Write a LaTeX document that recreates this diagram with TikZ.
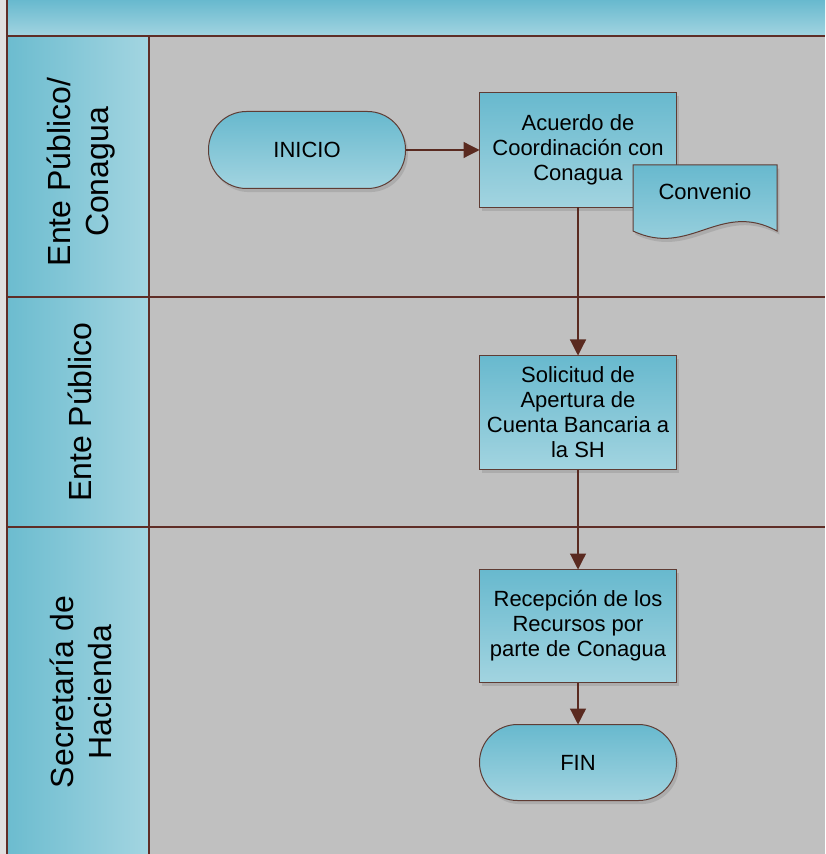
\documentclass[tikz,border=0pt]{standalone}
\usepackage{fontspec}
\setmainfont{Liberation Sans}
\usetikzlibrary{positioning,shadows,arrows.meta}
\definecolor{boxtop}{RGB}{104,185,206}
\definecolor{boxbot}{RGB}{162,212,224}
\definecolor{laneL}{RGB}{108,188,207}
\definecolor{laneR}{RGB}{163,213,225}
\definecolor{edge}{RGB}{95,60,52}
\definecolor{lanerule}{RGB}{95,45,38}
\definecolor{flowc}{RGB}{90,42,32}
\definecolor{pool}{RGB}{192,192,192}
\tikzset{
  proc/.style={draw=edge, line width=0.5pt, top color=boxtop, bottom color=boxbot,
    minimum width=98.5pt, minimum height=57.5pt, align=center, inner sep=2pt, outer sep=0pt,
    font=\fontsize{11}{12.5}\selectfont,
    drop shadow={shadow xshift=1.2pt, shadow yshift=-1.8pt, opacity=0.3}},
  term/.style={proc, minimum height=38pt, rounded corners=19pt},
  flow/.style={draw=flowc, line width=0.6pt, -{Triangle[length=8pt,width=8pt]}},
  lanerl/.style={draw=lanerule, line width=1pt},
  lanetxt/.style={rotate=90, align=center, font=\fontsize{16}{19}\selectfont}
}
\begin{document}
\begin{tikzpicture}[x=0.5pt,y=-0.5pt]
\useasboundingbox (0,0) rectangle (825,854);
\fill[black!12] (0,0) rectangle (825,854);
% pool and header
\fill[pool] (149,36) rectangle (825,854);
\fill[top color=boxtop, bottom color=boxbot] (7,0) rectangle (825,36);
% lanes
\foreach \ya/\yb in {36/297, 297/527, 527/854}
  \fill[left color=laneL, right color=laneR] (7,\ya) rectangle (149,\yb);
\draw[lanerl] (7,0) -- (7,854);
\draw[lanerl] (149,36) -- (149,854);
\foreach \y in {36, 297, 527}
  \draw[lanerl] (7,\y) -- (825,\y);
\node[lanetxt] (ln1) at (81,172) {Ente Público/\\Conagua};
\node[lanetxt] (ln2) at (80,412) {Ente Público};
\node[lanetxt] (ln3) at (81,692) {Secretaría de\\Hacienda};
% steps
\node[term, minimum height=38.5pt] (ini) at (307,150) {INICIO};
\node[proc, right=37pt of ini] (acu) {Acuerdo de\\Coordinación con\\Conagua};
\node[proc, minimum height=57pt, below=74pt of acu] (sol) {Solicitud de\\Apertura de\\Cuenta Bancaria a\\la SH};
\node[proc, minimum height=56.5pt, below=50pt of sol] (rec) {Recepción de los\\Recursos por\\parte de Conagua};
\node[term, below=21pt of rec] (fin) {FIN};
% document
\path[draw=edge, line width=0.5pt, top color=boxtop, bottom color=boxbot,
  drop shadow={shadow xshift=1.2pt, shadow yshift=-1.8pt, opacity=0.3}]
  (633,165) -- (777,165) -- (777,231)
  .. controls (720,200) and (690,258) .. (633,231) -- cycle;
\node[font=\fontsize{11}{12.5}\selectfont] (conv) at (705,192) {Convenio};
% flow
\draw[flow] (ini) -- (acu);
\draw[flow] (acu) -- (sol);
\draw[flow] (sol) -- (rec);
\draw[flow] (rec) -- (fin);
\end{tikzpicture}
\end{document}
